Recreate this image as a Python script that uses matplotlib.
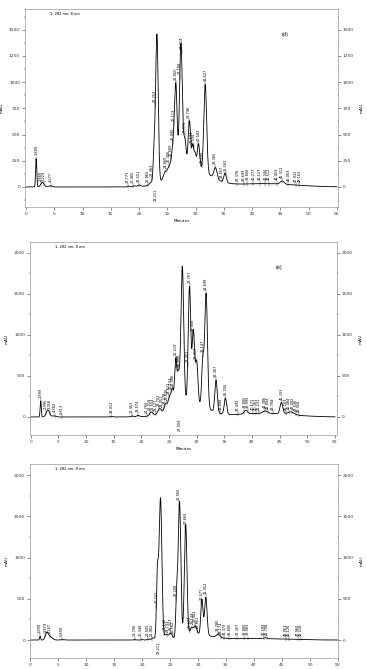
import numpy as np
import matplotlib
matplotlib.use("Agg")
import matplotlib.pyplot as plt
from matplotlib.ticker import MultipleLocator

# ---- panel (d) peaks: retention time (min), height (mAU), width (min) ----
d_rt = [1.8, 2.9, 4.3, 18.2, 19.1, 20.0, 22.1, 22.65, 23.15, 24.6, 25.3, 26.0, 26.5,
        27.4, 28.1, 28.9, 29.5, 29.9, 30.5, 31.7, 33.5, 35.2, 45.3, 29.0, 42.0]
d_h = [270, 45, 12, 8, 10, 15, 25, 280, 1420, 70, 90, 250, 800,
       1200, 260, 440, 200, 130, 240, 840, 105, 90, 30, 190, 32]
d_w = [0.1, 0.3, 0.3, 0.2, 0.2, 0.3, 0.3, 0.17, 0.23, 0.3, 0.28, 0.28, 0.23,
       0.25, 0.22, 0.22, 0.17, 0.17, 0.22, 0.25, 0.28, 0.22, 0.35, 3.2, 5.5]
d_lab_x = [1.8, 2.6, 3.2, 4.4, 18.0, 18.9, 20.0, 21.6, 22.3, 22.85, 24.7, 25.3, 25.65,
           25.95, 26.15, 26.45, 27.2, 27.5, 28.05, 28.85, 29.25, 29.65, 30.45, 31.05,
           31.7, 33.45, 34.6, 35.3, 37.4, 38.55, 39.15, 40.2, 41.4, 42.35, 42.95,
           44.4, 45.3, 46.4, 47.7, 48.35]
d_lab = ["1.899", "2.889", "3.229", "4.277", "17.773", "18.465", "19.551", "21.865",
         "22.363", "23.252", "24.865", "25.366", "25.689", "25.990", "26.113", "25.660",
         "27.188", "27.424", "27.976", "28.796", "29.174", "29.534", "30.589", "31.155",
         "31.627", "33.365", "34.667", "35.043", "37.376", "38.699", "38.806", "40.277",
         "41.127", "42.346", "42.512", "44.459", "45.312", "46.063", "47.932", "48.162"]
d_low_x = [23.0]
d_low = ["23.211"]

# ---- panel (e) ----
e_rt = [1.8, 3.1, 4.2, 14.6, 18.3, 19.4, 21.8, 23.3, 24.4, 25.1, 25.6, 26.2, 26.7,
        27.4, 28.7, 29.4, 30.0, 31.1, 31.7, 33.5, 35.2, 38.9, 42.4, 45.3, 47.0, 28.5, 42.0]
e_h = [195, 85, 15, 8, 12, 18, 45, 60, 90, 150, 210, 540, 360,
       1660, 1400, 860, 500, 540, 1390, 390, 195, 45, 30, 140, 35, 190, 45]
e_w = [0.1, 0.3, 0.3, 0.2, 0.25, 0.25, 0.3, 0.3, 0.25, 0.25, 0.2, 0.2, 0.22,
       0.25, 0.23, 0.22, 0.22, 0.2, 0.25, 0.22, 0.22, 0.3, 0.4, 0.25, 0.6, 3.0, 5.0]
e_lab_x = [1.8, 2.8, 3.4, 4.3, 5.6, 14.6, 18.3, 19.4, 21.0, 21.55, 22.1, 22.65, 23.2,
           23.7, 24.15, 24.6, 25.0, 25.35, 25.7, 26.2, 26.5, 26.75, 28.35, 28.7, 29.3, 29.8,
           31.1, 31.7, 33.5, 34.3, 35.2, 37.4, 38.6, 39.2, 40.1, 40.7, 41.3, 42.3,
           42.9, 43.8, 45.4, 46.1, 46.7, 47.3, 47.9, 48.5]
e_lab = ["1.899", "2.995", "3.358", "4.382", "5.613", "14.912", "18.453", "19.574",
         "21.760", "22.018", "22.554", "23.127", "23.703", "24.051", "24.278", "24.536",
         "24.812", "25.104", "25.386", "26.219", "26.599", "26.856", "28.451", "28.767",
         "29.308", "29.917", "31.147", "31.699", "33.367", "34.888", "35.256", "37.492",
         "38.805", "38.995", "40.171", "40.361", "41.231", "42.386", "42.804", "43.784",
         "45.333", "46.183", "46.484", "47.002", "47.536", "48.058"]
e_low_x = [26.9]
e_low = ["27.509"]

# ---- panel (f) ----
f_rt = [1.8, 3.0, 3.6, 5.7, 18.7, 20.0, 21.2, 22.0, 22.75, 23.3, 24.3, 25.1, 26.2,
        26.7, 27.8, 28.8, 29.5, 30.7, 31.4, 33.6, 42.0, 30.0, 40.0]
f_h = [45, 85, 40, 5, 5, 6, 10, 25, 760, 1720, 60, 70, 500,
       1650, 1360, 90, 110, 430, 460, 40, 12, 60, 18]
f_w = [0.09, 0.25, 0.4, 0.3, 0.2, 0.2, 0.25, 0.25, 0.17, 0.25, 0.3, 0.3, 0.17,
       0.23, 0.23, 0.25, 0.3, 0.2, 0.22, 0.3, 0.3, 2.6, 5.5]
f_lab_x = [1.8, 2.75, 3.5, 5.7, 18.75, 19.8, 21.0, 21.7, 22.55, 24.0, 24.55, 25.05, 25.5,
           26.1, 26.65, 27.75, 28.5, 29.0, 29.45, 29.9, 30.6, 31.4, 33.5, 34.1, 34.7,
           35.6, 37.0, 38.3, 38.9, 41.7, 42.3, 45.7, 46.3, 47.8, 48.4]
f_lab = ["1.899", "2.879", "3.267", "5.899", "18.795", "20.348", "21.505", "21.962",
         "22.741", "24.132", "24.733", "25.323", "25.562", "26.208", "26.560", "27.669",
         "28.629", "29.149", "29.452", "29.863", "30.577", "31.352", "33.280", "34.174",
         "34.379", "35.660", "37.307", "38.880", "38.983", "41.599", "41.788", "45.953",
         "46.126", "47.960", "48.218"]
f_low_x = [23.0]
f_low = ["23.211"]

panels = [
    dict(rt=d_rt, h=d_h, w=d_w, lx=d_lab_x, lab=d_lab, bx=d_low_x, blab=d_low,
         pos=[25/367, 1-207/669, 313/367, 198/669], xlim=(-0.18, 55.18), ylim=(-191, 1698),
         step=250, top=1500, tag="(d)", tagpos=(0.83, 0.87), xlabel=True),
    dict(rt=e_rt, h=e_h, w=e_w, lx=e_lab_x, lab=e_lab, bx=e_low_x, blab=e_low,
         pos=[30/367, 1-435/669, 307/367, 193/669], xlim=(-0.13, 55.36), ylim=(-220, 2134),
         step=500, top=2000, tag="(e)", tagpos=(0.81, 0.87), xlabel=True),
    dict(rt=f_rt, h=f_h, w=f_w, lx=f_lab_x, lab=f_lab, bx=f_low_x, blab=f_low,
         pos=[30/367, 1-658/669, 308/367, 194/669], xlim=(0, 55), ylim=(-218, 2136),
         step=500, top=2000, tag=None, tagpos=None, xlabel=False),
]

t = np.linspace(0, 55, 6000)
fig = plt.figure(figsize=(3.67, 6.69), dpi=100)
fs = 2.5

for p in panels:
    ax = fig.add_axes(p["pos"])
    y = np.zeros_like(t)
    for r, a, s in zip(p["rt"], p["h"], p["w"]):
        y += a * np.exp(-0.5 * ((t - r) / s) ** 2)
    ax.plot(t, y, color="black", lw=0.6)

    ax.set_xlim(*p["xlim"])
    ax.set_ylim(*p["ylim"])
    pad = (p["ylim"][1] - p["ylim"][0]) / 190 * 3

    # peak markers and retention-time labels
    for x, s in zip(p["lx"], p["lab"]):
        yy = np.interp(x, t, y)
        ax.plot([x, x], [yy - pad * 0.6, yy + pad], color="black", lw=0.25)
        ax.text(x, yy + pad * 1.1, s, rotation=90, fontsize=fs, ha="center", va="bottom")
    for x, s in zip(p["bx"], p["blab"]):
        ax.text(x, -pad * 0.5, s, rotation=90, fontsize=fs, ha="center", va="top")

    ax.xaxis.set_major_locator(MultipleLocator(5))
    ax.set_yticks(np.arange(0, p["top"] + 1, p["step"]))
    ax.yaxis.set_minor_locator(MultipleLocator(p["step"] / 2))
    ax.tick_params(labelsize=3.2, length=2, width=0.4, colors="#333333", pad=1.5)
    ax.tick_params(which="minor", length=1, width=0.3)
    for sp in ax.spines.values():
        sp.set_color("#999999")
        sp.set_linewidth(0.5)
    ax.set_ylabel("mAU", fontsize=3, labelpad=4)
    if p["xlabel"]:
        ax.set_xlabel("Minutes", fontsize=3, labelpad=2)

    ax2 = ax.twinx()
    ax2.set_ylim(*p["ylim"])
    ax2.set_yticks(np.arange(0, p["top"] + 1, p["step"]))
    ax2.yaxis.set_minor_locator(MultipleLocator(p["step"] / 2))
    ax2.tick_params(labelsize=3.2, length=2, width=0.4, colors="#333333", pad=1.5)
    ax2.tick_params(which="minor", length=1, width=0.3)
    for sp in ax2.spines.values():
        sp.set_visible(False)
    ax2.set_ylabel("mAU", fontsize=3, labelpad=4)

    ax.text(0.08, 0.985, "1: 282 nm, 8 nm", transform=ax.transAxes, fontsize=2.6,
            va="top", ha="left")
    if p["tag"]:
        ax.text(p["tagpos"][0], p["tagpos"][1], p["tag"], transform=ax.transAxes,
                fontsize=3.5, ha="center", va="center")

fig.savefig("out.png", dpi=100)
